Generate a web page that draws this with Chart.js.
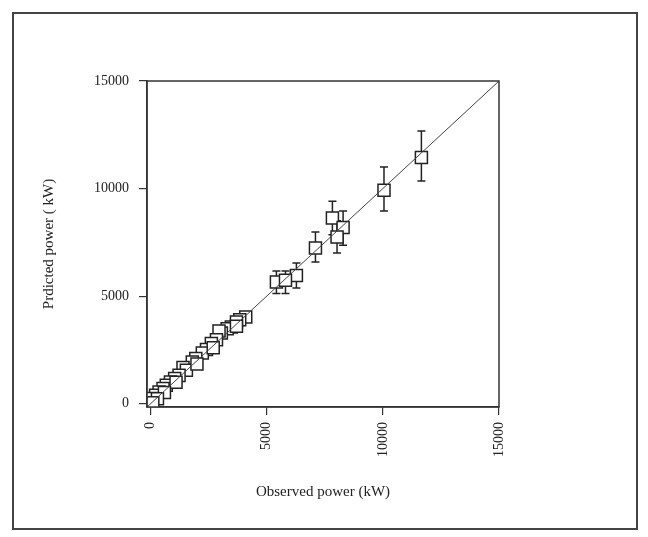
<!DOCTYPE html>
<html>
<head>
<meta charset="utf-8">
<title>Observed vs predicted power</title>
<script src="https://cdn.jsdelivr.net/npm/chart.js@4.4.1/dist/chart.umd.min.js"></script>
<style>
  html, body { margin: 0; padding: 0; background: #fff; }
  #wrap { width: 648px; height: 537px; }
</style>
</head>
<body>
<div id="wrap"><canvas id="powerChart" width="648" height="537"></canvas></div>
<script>
// observed / predicted power (kW)
var observed  = [11660, 10050, 7830, 8290, 8030, 7100, 6280, 5420, 5810, 4100,
                 3840, 3700, 3480, 3300, 3050, 2950, 2840, 2620, 2410, 2230,
                 1950, 1800, 1400, 1545, 1230, 1040, 860, 680, 540, 370,
                 220, 40, 0, 3700, 2700, 2000, 1100, 600, 300, 100];
var predicted = [11440, 9920, 8630, 8190, 7750, 7240, 5960, 5660, 5740, 4030,
                 3910, 3800, 3570, 3490, 3290, 3380, 2980, 2800, 2520, 2360,
                 2100, 1940, 1680, 1560, 1320, 1170, 1010, 860, 710, 550,
                 400, 240, 10, 3600, 2600, 1850, 1000, 520, 230, 50];
// error bar ends (null = no bar)
var errHigh = [12680, 11000, 9410, 8960, 8500, 7980, 6540, 6170, 6170];
var errLow  = [10350, 8960, 7860, 7370, 7010, 6590, 5380, 5120, 5120];

var xTicks = [0, 5000, 10000, 15000];
var yTicks = [0, 5000, 10000, 15000];
var axisMin = -150;
var axisMax = 15000;
var diagonal = [axisMin, axisMax];

var points = [];
for (var i = 0; i < observed.length; i++) {
  points.push({x: observed[i], y: predicted[i]});
}

var serif = "'Liberation Serif', 'Times New Roman', serif";
var ink = '#222';

// outer frame + box around plot area
var framePlugin = {
  id: 'frame',
  beforeDraw: function(chart) {
    var ctx = chart.ctx;
    ctx.save();
    ctx.fillStyle = '#fff';
    ctx.fillRect(0, 0, chart.width, chart.height);
    ctx.strokeStyle = '#444';
    ctx.lineWidth = 2;
    ctx.strokeRect(13, 13, 624, 516);
    ctx.restore();
  },
  afterDraw: function(chart) {
    var a = chart.chartArea;
    var ctx = chart.ctx;
    ctx.save();
    ctx.strokeStyle = '#333';
    ctx.lineWidth = 1.5;
    ctx.strokeRect(a.left, a.top, a.right - a.left, a.bottom - a.top);
    ctx.restore();
  }
};

// vertical error bars with caps
var errorBarPlugin = {
  id: 'errorBars',
  beforeDatasetsDraw: function(chart) {
    var xs = chart.scales.x, ys = chart.scales.y;
    var ctx = chart.ctx;
    ctx.save();
    ctx.strokeStyle = ink;
    ctx.lineWidth = 1.5;
    for (var i = 0; i < errHigh.length; i++) {
      if (errHigh[i] == null) continue;
      var px = xs.getPixelForValue(observed[i]);
      var top = ys.getPixelForValue(errHigh[i]);
      var bot = ys.getPixelForValue(errLow[i]);
      ctx.beginPath();
      ctx.moveTo(px, top); ctx.lineTo(px, bot);
      ctx.moveTo(px - 4, top); ctx.lineTo(px + 4, top);
      ctx.moveTo(px - 4, bot); ctx.lineTo(px + 4, bot);
      ctx.stroke();
    }
    ctx.restore();
  }
};

function plainNumber(v) { return String(v); }

var config = {
  type: 'scatter',
  data: {
    datasets: [{
      type: 'line',
      data: [{x: diagonal[0], y: diagonal[0]}, {x: diagonal[1], y: diagonal[1]}],
      borderColor: '#444',
      borderWidth: 1,
      pointRadius: 0,
      order: 0
    },
    {
      data: points,
      pointStyle: 'rect',
      pointRadius: 8.5,
      borderColor: ink,
      borderWidth: 1.5,
      backgroundColor: '#fff',
      order: 1
    }]
  },
  options: {
    responsive: false,
    animation: false,
    layout: { padding: { left: 36, right: 149, top: 81, bottom: 32 } },
    plugins: { legend: { display: false }, tooltip: { enabled: false } },
    scales: {
      x: {
        type: 'linear',
        min: axisMin,
        max: axisMax,
        afterBuildTicks: function(s) { s.ticks = xTicks.map(function(v){ return {value: v}; }); },
        afterFit: function(s) { s.height = 98; },
        ticks: { minRotation: 90, maxRotation: 90, padding: 7, color: ink, callback: plainNumber,
                 font: { family: serif, size: 14 } },
        grid: { drawOnChartArea: false, tickLength: 8, color: '#333', lineWidth: 1.2 },
        border: { display: true, color: '#333', width: 1.5 },
        title: { display: true, text: 'Observed power (kW)', color: ink, font: { family: serif, size: 15 } }
      },
      y: {
        type: 'linear',
        min: axisMin,
        max: axisMax,
        afterBuildTicks: function(s) { s.ticks = yTicks.map(function(v){ return {value: v}; }); },
        afterFit: function(s) { s.width = 111; },
        ticks: { padding: 10, color: ink, callback: plainNumber, font: { family: serif, size: 14 } },
        grid: { drawOnChartArea: false, tickLength: 8, color: '#333', lineWidth: 1.2 },
        border: { display: true, color: '#333', width: 1.5 },
        title: { display: true, text: 'Prdicted power ( kW)', color: ink, font: { family: serif, size: 15 } }
      }
    }
  },
  plugins: [framePlugin, errorBarPlugin]
};

var powerChart = new Chart(document.getElementById('powerChart'), config);
</script>
</body>
</html>
